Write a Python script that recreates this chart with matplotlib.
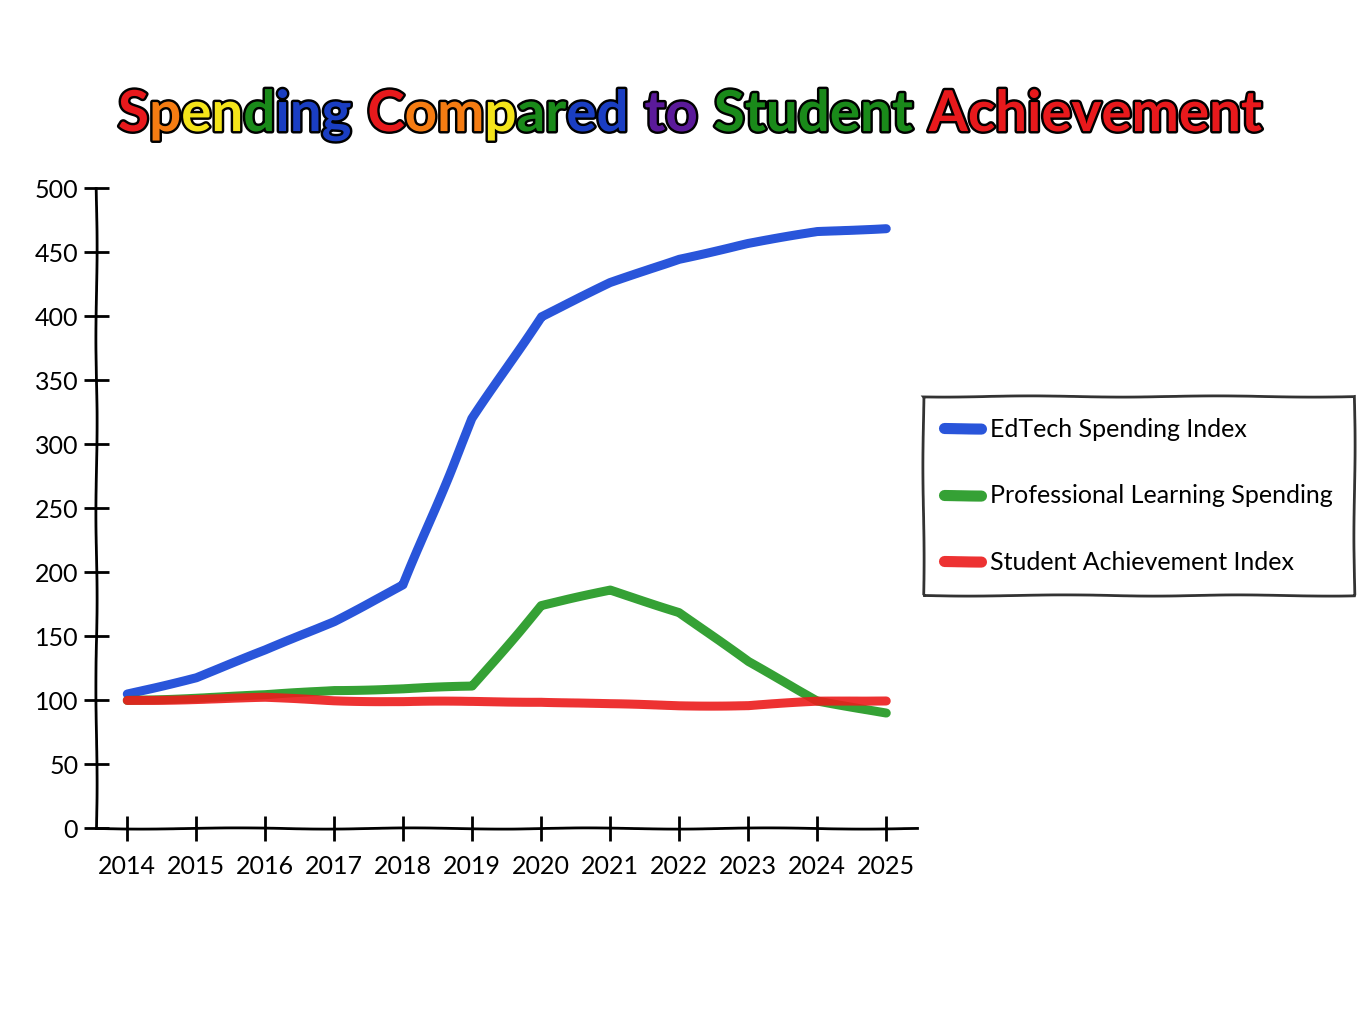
import matplotlib
matplotlib.use('Agg')
import matplotlib.pyplot as plt
import matplotlib.patheffects as pe

years = list(range(2014, 2026))
edtech = [105, 118, 139, 162, 190, 320, 400, 426, 445, 457, 466, 469]
prof_learning = [100, 102, 104, 108, 109, 111, 174, 186, 169, 130, 100, 90]
achievement = [100, 101, 102, 100, 99, 99, 99, 97, 96, 96, 99, 100]

series_names = ['EdTech Spending Index', 'Professional Learning Spending', 'Student Achievement Index']
series_colors = ['#1242d6', '#1f971f', '#ec1c1c']

# rainbow title, one colour per letter
R, O, Y, G, B, P = '#e8191c', '#f57c12', '#f4e41a', '#1a8a1a', '#1a3ec2', '#5b1a9a'
title_words = ['Spending', 'Compared', 'to', 'Student', 'Achievement']
title_colors = [
    [R, O, Y, Y, G, B, B, B],
    [R, O, O, Y, G, G, B, B],
    [P, P],
    [G] * 7,
    [R] * 11,
]

plt.xkcd(scale=0.6, length=200, randomness=2)
plt.rcParams['path.effects'] = []
plt.rcParams['font.family'] = ['Lato', 'DejaVu Sans']

fig = plt.figure(figsize=(13.65, 10.24), dpi=100)
ax = fig.add_axes([0.070, 0.191, 0.602, 0.625])

data = [edtech, prof_learning, achievement]
for vals, name, col in zip(data, series_names, series_colors):
    ax.plot(years, vals, color=col, lw=6.5, alpha=0.9, label=name,
            solid_capstyle='round', solid_joinstyle='round')

ax.set_xlim(2013.54, 2025.45)
ax.set_ylim(0, 500)
ax.set_xticks(years)
ax.set_yticks(range(0, 501, 50))
ax.tick_params(axis='both', direction='inout', length=18, width=2, labelsize=18, colors='black')
ax.tick_params(axis='x', pad=10)
for s in ['top', 'right']:
    ax.spines[s].set_visible(False)
for s in ['left', 'bottom']:
    ax.spines[s].set_linewidth(2)
    ax.spines[s].set_color('black')

leg = ax.legend(loc='upper left', bbox_to_anchor=(0.676, 0.613), bbox_transform=fig.transFigure,
                fontsize=18, frameon=True, fancybox=False, edgecolor='black', borderaxespad=0,
                handlelength=1.5, handletextpad=0.35, labelspacing=1.75, borderpad=0.85)
leg.get_frame().set_linewidth(2)
for h in leg.get_lines():
    h.set_linewidth(8)

# title letters, measured then laid out one by one
renderer = fig.canvas.get_renderer()
fig_w = fig.bbox.width
target_left, target_right = 118, 1262
base_fs = 60
outline = [pe.Stroke(linewidth=3.5, foreground='black'), pe.Normal()]


def width_of(s, fs):
    t = fig.text(0, 0, s, fontsize=fs, fontweight='bold')
    w = t.get_window_extent(renderer).width
    t.remove()
    return w


space_frac = 0.28
total = sum(width_of(ch, base_fs) for w in title_words for ch in w)
total += space_frac * base_fs * 100 / 72 * (len(title_words) - 1)
fs = base_fs * (target_right - target_left) / total

x = target_left
for wi, (word, cols) in enumerate(zip(title_words, title_colors)):
    for ch, c in zip(word, cols):
        t = fig.text(x / fig_w, 0.872, ch, fontsize=fs, fontweight='bold', color=c,
                     va='baseline', ha='left', path_effects=outline)
        x += t.get_window_extent(renderer).width
    x += space_frac * fs * 100 / 72

fig.savefig('out.png', dpi=100, facecolor='white')
